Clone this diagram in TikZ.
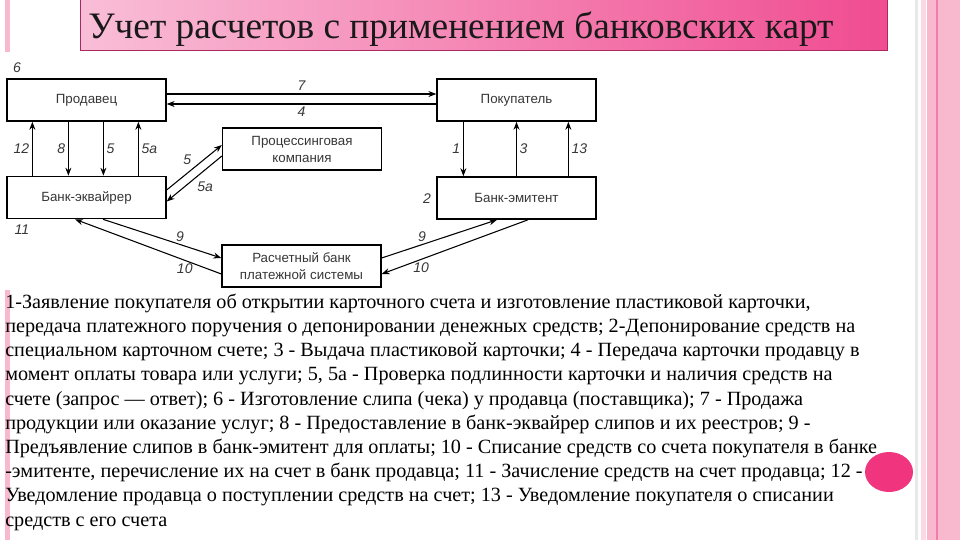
\documentclass[tikz,border=0pt]{standalone}
\usepackage{fontspec}
\setmainfont{Liberation Serif}
\setsansfont{Liberation Sans}
\usepackage{tikz}
\usetikzlibrary{arrows.meta, positioning, calc}
\definecolor{slidepink}{RGB}{248,184,206}
\definecolor{hotpink}{RGB}{240,52,125}
\definecolor{titlelight}{RGB}{249,190,215}
\definecolor{titledark}{RGB}{240,76,145}
\definecolor{titleedge}{RGB}{170,40,95}
\definecolor{boxtext}{RGB}{55,55,55}
\tikzset{
  box/.style={rectangle, draw=black, line width=1.2pt, fill=white, minimum width=119pt, minimum height=31.5pt, align=center, text=boxtext, font=\sffamily\fontsize{10}{12.75}\selectfont},
  arrow/.style={-{Stealth[length=6pt, width=4.5pt]}, line width=0.8pt},
  num/.style={font=\sffamily\itshape\fontsize{10.5}{12}\selectfont, text=boxtext, inner sep=2pt},
}

\begin{document}
\begin{tikzpicture}[x=0.75pt, y=-0.75pt]
\useasboundingbox (0,0) rectangle (960,540);
\fill[slidepink] (5,0) rectangle (10,52);
\fill[slidepink] (5,290) rectangle (10,540);
\fill[gray!18] (915,0) rectangle (918,540);
\fill[slidepink!55] (921,0) rectangle (926,540);
\fill[slidepink] (927,0) rectangle (960,540);
\draw[hotpink!65, line width=0.8pt] (937,0) -- (937,540);
\shade[left color=titlelight, right color=titledark] (80,0) rectangle (887,50);
\draw[titleedge, line width=0.6pt] (80,0) -- (80,50) -- (887,50) -- (887,0);
\node[anchor=base west, inner sep=0pt, text=black!90, font=\fontsize{28}{30}\selectfont] (title) at (88,38) {Учет расчетов с применением банковских карт};

\node[box] (seller) at (86.5,100) {Продавец};
\node[box] (buyer) at (516.5,100) {Покупатель};
\node[box] (acquirer) at (86.5,197.5) {Банк-эквайрер};
\node[box] (issuer) at (516.5,198) {Банк-эмитент};
\node[box] (processing) at (302,149) {Процессинговая\\компания};
\node[box] (settlement) at (301.5,266) {Расчетный банк\\платежной системы};

\node[num] (l6) at (17,68) {6};
\node[num] (l2) at (427,199) {2};
\node[num] (l11) at (22,230) {11};

\draw[arrow] ($(seller.east)+(0,-6)$) -- node[num, above] (l7) {7} ($(buyer.west)+(0,-6)$);
\draw[arrow] ($(buyer.west)+(0,4)$) -- node[num, below] (l4) {4} ($(seller.east)+(0,4)$);
\draw[arrow] ($(acquirer.north west)+(26,0)$) -- node[num, left] (l12) {12} ($(seller.south west)+(26,0)$);
\draw[arrow] ($(seller.south west)+(62,0)$) -- node[num, left] (l8) {8} ($(acquirer.north west)+(62,0)$);
\draw[arrow] ($(seller.south west)+(97,0)$) -- node[num, right] (l5) {5} ($(acquirer.north west)+(97,0)$);
\draw[arrow] ($(acquirer.north west)+(132,0)$) -- node[num, right] (l5a) {5а} ($(seller.south west)+(132,0)$);
\draw[arrow] ($(buyer.south west)+(27,0)$) -- node[num, left] (l1) {1} ($(issuer.north west)+(27,0)$);
\draw[arrow] (issuer.north) -- node[num, right] (l3) {3} (buyer.south);
\draw[arrow] ($(issuer.north west)+(132,0)$) -- node[num, right] (l13) {13} ($(buyer.south west)+(132,0)$);
\draw[arrow] ($(acquirer.east)+(0,-7.5)$) -- node[num, above left] (l5p) {5} ($(processing.west)+(0,-4)$);
\draw[arrow] ($(processing.west)+(0,7)$) -- node[num, below right] (l5ap) {5а} ($(acquirer.east)+(0,4)$);
\draw[arrow] ($(acquirer.south)+(16.5,0)$) -- node[num, above, pos=0.65] (l9a) {9} ($(settlement.west)+(0,-8)$);
\draw[arrow] ($(settlement.west)+(0,8)$) -- node[num, below, pos=0.25] (l10a) {10} ($(acquirer.south)+(-11.5,0)$);
\draw[arrow] ($(settlement.east)+(0,-8)$) -- node[num, above, pos=0.35] (l9i) {9} ($(issuer.south)+(-19.5,0)$);
\draw[arrow] ($(issuer.south)+(11.5,0)$) -- node[num, below, pos=0.73] (l10i) {10} ($(settlement.east)+(0,8)$);

\node[anchor=north west, align=left, inner sep=0pt, font=\fontsize{15.15}{18.15}\selectfont] (legend) at (5,293.5) {1-Заявление покупателя об открытии карточного счета и изготовление пластиковой карточки,\\
передача платежного поручения о депонировании денежных средств; 2-Депонирование средств на\\
специальном карточном счете; 3 - Выдача пластиковой карточки; 4 - Передача карточки продавцу в\\
момент оплаты товара или услуги; 5, 5а - Проверка подлинности карточки и наличия средств на\\
счете (запрос — ответ); 6 - Изготовление слипа (чека) у продавца (поставщика); 7 - Продажа\\
продукции или оказание услуг; 8 - Предоставление в банк-эквайрер слипов и их реестров; 9 -\\
Предъявление слипов в банк-эмитент для оплаты; 10 - Списание средств со счета покупателя в банке\\
-эмитенте, перечисление их на счет в банк продавца; 11 - Зачисление средств на счет продавца; 12 -\\
Уведомление продавца о поступлении средств на счет; 13 - Уведомление покупателя о списании\\
средств с его счета};
\fill[hotpink] (889,472) ellipse [x radius=24, y radius=20];
\end{tikzpicture}
\end{document}
